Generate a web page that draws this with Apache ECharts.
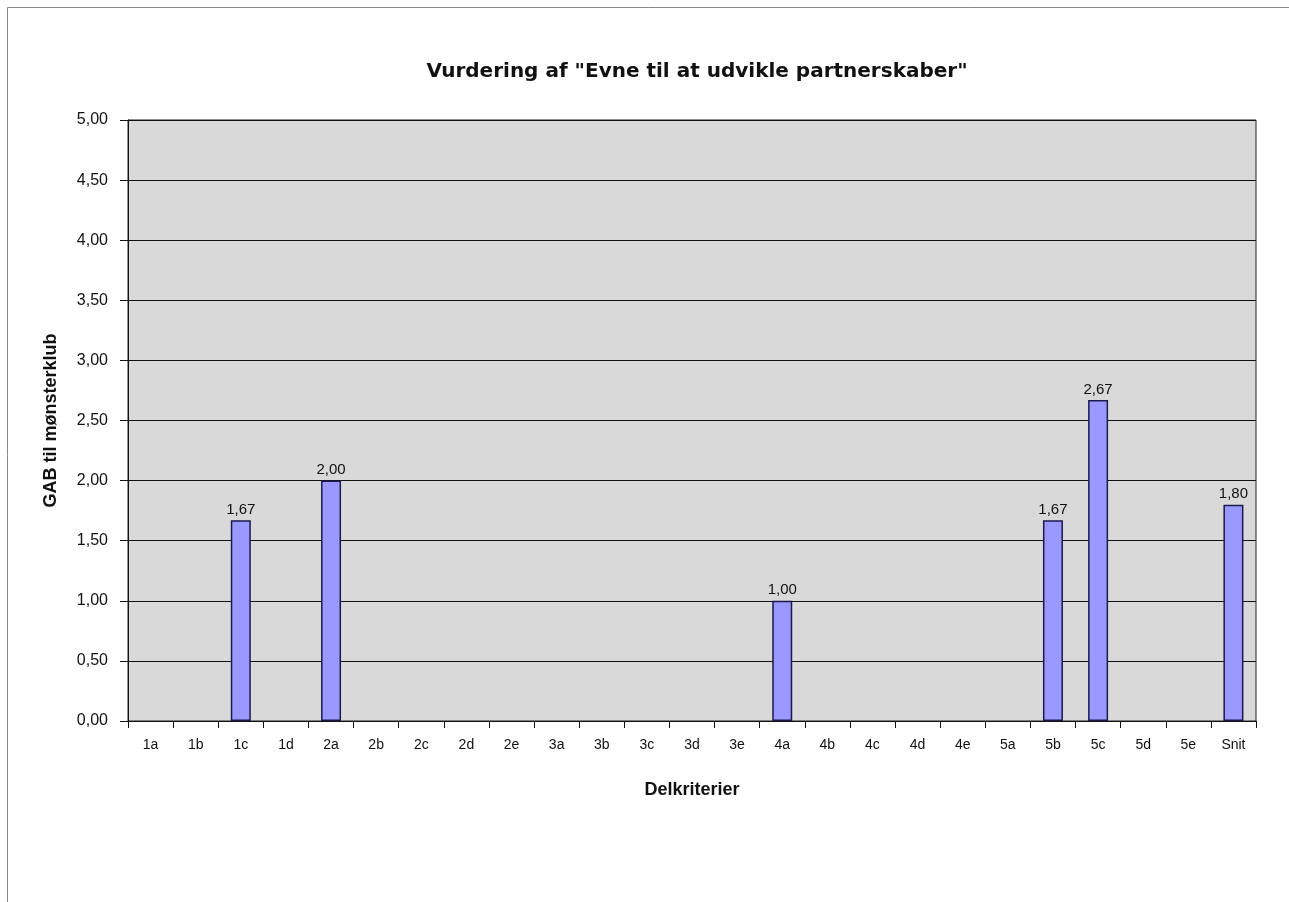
<!DOCTYPE html>
<html><head><meta charset="utf-8">
<script src="https://cdn.jsdelivr.net/npm/echarts@6/dist/echarts.min.js"></script>
<style>html,body{margin:0;padding:0;background:#fff}#c{width:1289px;height:902px}</style>
</head><body><div id="c"></div>
<script>
const categories = ['1a','1b','1c','1d','2a','2b','2c','2d','2e','3a','3b','3c','3d','3e','4a','4b','4c','4d','4e','5a','5b','5c','5d','5e','Snit'];
const values = [null,null,1.67,null,2.00,null,null,null,null,null,null,null,null,null,1.00,null,null,null,null,null,1.67,2.67,null,null,1.80];
const yTicks = [0,0.5,1,1.5,2,2.5,3,3.5,4,4.5,5];
const chart = echarts.init(document.getElementById('c'));
const font = 'Liberation Sans, Arial, sans-serif';
chart.setOption({
  animation:false,
  backgroundColor:'#fff',
  graphic:[{type:'rect',shape:{x:7.5,y:7.5,width:1300,height:1000},style:{fill:'none',stroke:'#888',lineWidth:1},z:-1}],
  title:{text:'Vurdering af "Evne til at udvikle partnerskaber"',left:692,top:57,textAlign:'center',
    textStyle:{fontFamily:'DejaVu Sans, sans-serif',fontSize:20,fontWeight:'bold',color:'#111'}},
  grid:{left:128,right:33,top:120,bottom:181,show:true,backgroundColor:'#d9d9d9',borderColor:'#222',borderWidth:1},
  xAxis:{type:'category',data:categories,
    name:'Delkriterier',nameLocation:'middle',nameGap:60,
    nameTextStyle:{fontFamily:font,fontSize:18,fontWeight:'bold',color:'#111'},
    axisLine:{lineStyle:{color:'#111',width:1}},
    axisTick:{show:true,length:7,lineStyle:{color:'#111'},alignWithLabel:false},
    axisLabel:{fontFamily:font,fontSize:14,color:'#111',margin:17}},
  yAxis:{type:'value',min:0,max:5,interval:0.5,
    name:'GAB til mønsterklub',nameLocation:'middle',nameGap:68,nameRotate:90,
    nameTextStyle:{fontFamily:font,fontSize:18,fontWeight:'bold',color:'#111'},
    axisLine:{show:true,lineStyle:{color:'#111'}},
    axisTick:{show:true,length:8,lineStyle:{color:'#111'}},
    splitLine:{lineStyle:{color:'#111',width:1}},
    axisLabel:{fontFamily:font,fontSize:16,color:'#111',margin:20,
      formatter:v=>v.toFixed(2).replace('.',',')}},
  series:[{type:'bar',data:values,barWidth:20,
    itemStyle:{color:'#9999ff',borderColor:'#1a1a4d',borderWidth:1.5},
    label:{show:true,position:'top',distance:3,fontFamily:font,fontSize:15,color:'#111',
      formatter:p=>p.value==null?'':p.value.toFixed(2).replace('.',',')}}]
});
</script></body></html>
